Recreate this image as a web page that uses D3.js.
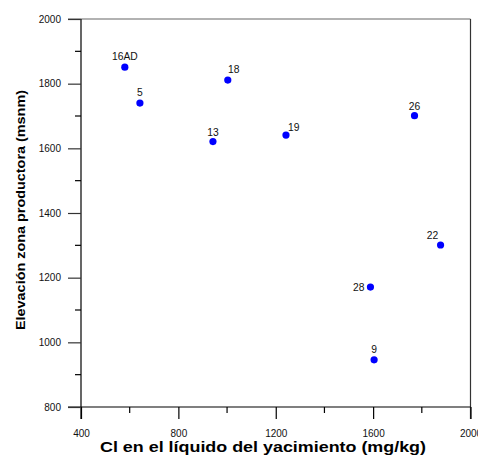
<!DOCTYPE html>
<html>
<head>
<meta charset="utf-8">
<script src="https://cdn.jsdelivr.net/npm/d3@7"></script>
<style>
html,body{margin:0;padding:0;background:#fff;}
svg{display:block;}
</style>
</head>
<body>
<svg id="chart" width="478" height="459"></svg>
<script>
// Data
const wells = ["16AD", "5", "13", "18", "19", "26", "22", "28", "9"];
const chloride = [580, 642, 942, 1003, 1242, 1770, 1877, 1589, 1604];
const elevation = [1851, 1740, 1621, 1811, 1641, 1701, 1301, 1171, 946];
const xTicks = [400, 800, 1200, 1600, 2000];
const yTicks = [800, 1000, 1200, 1400, 1600, 1800, 2000];
const xTitle = "Cl en el líquido del yacimiento (mg/kg)";
const yTitle = "Elevación zona productora (msnm)";

// label placement (style): [dx, dy, anchor]
const labelPlace = {
  "16AD": [0, -7, "middle"],
  "5": [0, -7, "middle"],
  "13": [0, -6, "middle"],
  "18": [6, -7, "middle"],
  "19": [2, -4, "start"],
  "26": [0, -6, "middle"],
  "22": [-8, -6, "middle"],
  "28": [-6, 3.5, "end"],
  "9": [0, -7, "middle"]
};

const svg = d3.select("#chart");
const m = {left: 81, right: 470.5, top: 19, bottom: 407};

const x = d3.scaleLinear().domain([400, 2000]).range([m.left, m.right]);
const y = d3.scaleLinear().domain([800, 2000]).range([m.bottom, m.top]);

const font = "Arial, 'Liberation Sans', sans-serif";

// frame: top & right
svg.append("line").attr("x1", m.left - 13).attr("x2", m.right).attr("y1", m.top).attr("y2", m.top)
  .attr("stroke", "#666").attr("stroke-width", 1.2);
svg.append("line").attr("x1", m.right).attr("x2", m.right).attr("y1", m.top).attr("y2", m.bottom + 12)
  .attr("stroke", "#333").attr("stroke-width", 1.2);

// minor ticks
const xMinor = d3.range(600, 2000, 400);
const yMinor = d3.range(900, 2000, 200);

// x axis
const xAxis = d3.axisBottom(x).tickValues(xTicks).tickSize(12).tickPadding(11).tickFormat(d3.format("d"));
const gx = svg.append("g").attr("transform", `translate(0,${m.bottom})`).call(xAxis);
gx.select(".domain").attr("d", `M${m.left - 13},0H${m.right}`).attr("stroke", "#000").attr("stroke-width", 1.2);
gx.selectAll(".tick line").attr("stroke", "#000").attr("stroke-width", 1.2);
gx.selectAll(".tick text").attr("font-family", font).attr("font-size", 10).attr("fill", "#111");
svg.append("g").selectAll("line").data(xMinor).join("line")
  .attr("x1", d => x(d)).attr("x2", d => x(d)).attr("y1", m.bottom).attr("y2", m.bottom + 6)
  .attr("stroke", "#000").attr("stroke-width", 1.2);

// y axis
const yAxis = d3.axisLeft(y).tickValues(yTicks).tickSize(13).tickPadding(7).tickFormat(d3.format("d"));
const gy = svg.append("g").attr("transform", `translate(${m.left},0)`).call(yAxis);
gy.select(".domain").attr("d", `M0,${m.top}V${m.bottom + 12}`).attr("stroke", "#000").attr("stroke-width", 1.2);
gy.selectAll(".tick line").attr("stroke", "#333").attr("stroke-width", 1.2);
gy.selectAll(".tick text").attr("font-family", font).attr("font-size", 10).attr("fill", "#111");
svg.append("g").selectAll("line").data(yMinor).join("line")
  .attr("x1", m.left - 6).attr("x2", m.left).attr("y1", d => y(d)).attr("y2", d => y(d))
  .attr("stroke", "#000").attr("stroke-width", 1.2);

// titles
svg.append("text").attr("x", 263).attr("y", 452).attr("text-anchor", "middle")
  .attr("font-family", font).attr("font-size", 15.5).attr("font-weight", "bold")
  .attr("textLength", 326).attr("lengthAdjust", "spacingAndGlyphs").text(xTitle);
svg.append("text").attr("transform", `translate(25,210) rotate(-90)`).attr("text-anchor", "middle")
  .attr("font-family", font).attr("font-size", 13.5).attr("font-weight", "bold")
  .attr("textLength", 240).attr("lengthAdjust", "spacingAndGlyphs").text(yTitle);

// points
const pts = wells.map((w, i) => ({w, cl: chloride[i], el: elevation[i]}));
svg.append("g").selectAll("circle").data(pts).join("circle")
  .attr("cx", d => x(d.cl)).attr("cy", d => y(d.el)).attr("r", 3.6).attr("fill", "#0000ff");

svg.append("g").selectAll("text").data(pts).join("text")
  .attr("x", d => x(d.cl) + labelPlace[d.w][0])
  .attr("y", d => y(d.el) + labelPlace[d.w][1])
  .attr("text-anchor", d => labelPlace[d.w][2])
  .attr("font-family", font).attr("font-size", 10.3).attr("fill", "#111")
  .text(d => d.w);
</script>
</body>
</html>
